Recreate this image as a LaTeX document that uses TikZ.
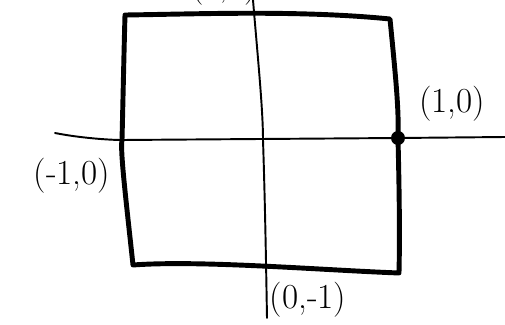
\documentclass[tikz,border=0pt]{standalone}
\begin{document}
\begin{tikzpicture}[x=0.02cm,y=-0.02cm,
  sq/.style={line width=2.8pt,line join=round,line cap=round},
  ax/.style={line width=1.1pt,line cap=round},
  lbl/.style={font=\fontsize{20}{24}\selectfont,inner sep=0pt}]
\useasboundingbox (0,0) rectangle (505,325);
\clip (0,0) rectangle (505,325);
\coordinate (tl) at (125,15);
\coordinate (tr) at (390,19);
\coordinate (br) at (399,273);
\coordinate (bl) at (133,265);
\draw[sq] (tl) .. controls (200,14) and (300,10) .. (tr)
  .. controls (396,80) and (399,110) .. (398,138)
  .. controls (399,180) and (400,230) .. (br)
  .. controls (320,270) and (200,260) .. (bl)
  .. controls (126,200) and (120,150) .. (122,140)
  .. controls (123,100) and (124,50) .. (tl);
\coordinate (yt) at (253,0);
\coordinate (yb) at (267,318);
\draw[ax] (yt) .. controls (258,60) and (263,110) .. (263,140) .. controls (265,200) and (266,260) .. (yb);
\coordinate (xl) at (55,133);
\coordinate (xr) at (505,137);
\draw[ax] (xl) .. controls (80,138) and (110,140) .. (122,140) -- (398,138) -- (xr);
\fill (398,138) circle (7);
\node[lbl] (m10) at (72,176) {(-1,0)};
\node[lbl] (p10) at (452,104) {(1,0)};
\node[lbl] (m01) at (308,300) {(0,-1)};
\node[lbl] (p01) at (224,-12) {(0,1)};
\end{tikzpicture}
\end{document}
